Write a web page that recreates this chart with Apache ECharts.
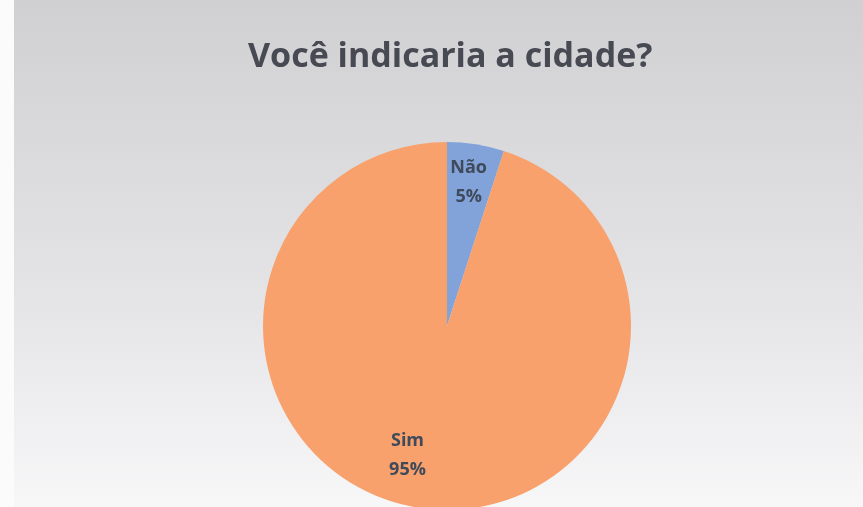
<!DOCTYPE html>
<html>
<head>
<meta charset="utf-8">
<script src="https://cdn.jsdelivr.net/npm/echarts@6/dist/echarts.min.js"></script>
<style>
  html, body { margin: 0; padding: 0; background: #fff; }
  #chart { width: 863px; height: 507px; }
</style>
</head>
<body>
<div id="chart"></div>
<script>
var categories = ['Não', 'Sim'];
var values = [5, 95];
var colors = ['#82a3da', '#f8a16c'];

var chart = echarts.init(document.getElementById('chart'));

var total = values.reduce(function (a, b) { return a + b; }, 0);
// push the inside labels outward, like the original
var midAngle = function (idx) {
    var acc = 0;
    for (var i = 0; i < idx; i++) acc += values[i];
    return (acc + values[idx] / 2) / total * 2 * Math.PI;
};

var option = {
    backgroundColor: {
        type: 'linear', x: 0, y: 0, x2: 0, y2: 1,
        colorStops: [
            { offset: 0, color: '#d0d0d3' },
            { offset: 0.55, color: '#e3e3e6' },
            { offset: 1, color: '#f7f7f8' }
        ]
    },
    graphic: [
        { type: 'rect', left: 0, top: 0, shape: { width: 14, height: 507 }, style: { fill: '#fbfbfb' }, z: -1 }
    ],
    title: {
        text: 'Você indicaria a cidade?',
        left: 243,
        top: 35,
        textStyle: {
            fontFamily: 'Open Sans',
            fontSize: 34,
            fontWeight: 'bold',
            color: '#474a52'
        }
    },
    series: [
        {
            type: 'pie',
            center: [447, 326],
            radius: [0, 184],
            startAngle: 90,
            clockwise: true,
            silent: true,
            data: categories.map(function (c, i) {
                return { name: c, value: values[i], itemStyle: { color: colors[i] } };
            }),
            label: {
                show: true,
                position: 'inside',
                formatter: function (p) { return p.name + '\n' + Math.round(p.percent) + '%'; },
                fontFamily: 'Open Sans',
                fontSize: 18,
                fontWeight: 'bold',
                lineHeight: 29,
                color: '#3f4a5a'
            },
            labelLayout: function (params) {
                var a = midAngle(params.dataIndex);
                var shift = params.dataIndex === 0 ? 50 : 36;
                var extra = params.dataIndex === 1 ? -19 : -1;
                return { dx: Math.sin(a) * shift + extra, dy: -Math.cos(a) * shift };
            }
        }
    ]
};

chart.setOption(option);
</script>
</body>
</html>
